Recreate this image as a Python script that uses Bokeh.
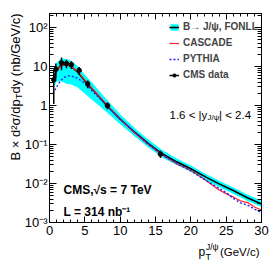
import math
from bokeh.plotting import figure
from bokeh.models import (FixedTicker, LinearAxis, LogAxis, CustomJSTickFormatter,
                          Legend, LegendItem, Label, Range1d, ColumnDataSource)
from bokeh.embed import file_html
from bokeh.resources import INLINE

# ---------------- data ----------------
fonll_pt = [0.5, 1, 1.5, 2, 2.5, 3, 4, 5, 6, 7, 8, 10, 12, 14, 16, 18, 20, 22, 24, 26, 28, 30]
fonll_central = [4.5, 8.0, 10.3, 11.2, 11.0, 10.2, 7.2, 4.3, 2.7, 1.7, 1.05, 0.45, 0.21, 0.105,
                 0.057, 0.036, 0.024, 0.015, 0.0098, 0.0066, 0.0043, 0.003]
fonll_upper = [7.5, 12.5, 15.5, 16.0, 15.5, 14.3, 10.2, 6.2, 3.9, 2.4, 1.5, 0.6, 0.27, 0.133,
               0.071, 0.044, 0.029, 0.018, 0.0118, 0.0079, 0.0052, 0.0036]
fonll_lower = [2.8, 4.0, 4.3, 3.9, 3.6, 3.5, 2.9, 2.0, 1.4, 1.0, 0.7, 0.33, 0.165, 0.084,
               0.046, 0.03, 0.02, 0.0125, 0.0082, 0.0055, 0.0036, 0.0025]

cascade_pt = [0.5, 1, 1.5, 2, 2.5, 3, 4, 5, 6, 7, 8, 10, 12, 14, 16, 18, 20, 22, 24, 25, 26, 27,
              27.5, 28, 29, 30]
cascade_val = [4.0, 7.5, 10.0, 11.0, 11.0, 10.3, 7.4, 4.5, 2.8, 1.75, 1.1, 0.45, 0.2, 0.1,
               0.053, 0.032, 0.022, 0.0125, 0.0068, 0.0055, 0.0045, 0.0036, 0.0034, 0.0033,
               0.0025, 0.0021]

pythia_pt = [0.5, 1, 1.5, 2, 2.5, 3, 4, 5, 6, 7, 8, 10, 12, 14, 16, 18, 20, 22, 24, 25, 26, 27,
             28, 29, 30]
pythia_val = [2.0, 3.0, 4.2, 5.2, 5.7, 5.8, 5.0, 3.7, 2.4, 1.6, 1.05, 0.45, 0.21, 0.1, 0.054,
              0.033, 0.021, 0.0125, 0.0075, 0.0058, 0.0042, 0.0032, 0.0028, 0.0022, 0.0018]

data_pt = [0.6, 0.9, 1.7, 2.4, 3.1, 4.2, 5.4, 8.2, 15.7]
data_val = [4.6, 8.5, 12.5, 12.0, 11.2, 8.0, 3.6, 1.0, 0.057]
data_err = [3.5, 3.5, 4.5, 3.0, 2.5, 1.8, 0.8, 0.2, 0.012]

x_min, x_max = 0, 30
y_min, y_max = 1e-3, 230
x_ticks = [0, 5, 10, 15, 20, 25, 30]
y_tick_values = [1e-3, 1e-2, 1e-1, 1, 10, 100]
y_tick_labels = ["10\u207b\u00b3", "10\u207b\u00b2", "10\u207b\u00b9", "1", "10", "10\u00b2"]

FONT = "Liberation Sans"

# ---------------- layout: the data box sits inside a canvas-sized frame ----------------
W, H = 274, 261                 # canvas
BL, BT, BR, BB = 49, 13, 261, 222   # data box edges in page px
sx = (BR - BL) / (x_max - x_min)
xr = Range1d(x_min - BL / sx, x_max + (W - BR) / sx)
dec = (BB - BT) / (math.log10(y_max) - math.log10(y_min))
yr = Range1d(10 ** (math.log10(y_min) - (H - BB) / dec), 10 ** (math.log10(y_max) + BT / dec))

p = figure(width=W, height=H, y_axis_type="log", x_range=xr, y_range=yr,
           output_backend="svg", toolbar_location=None, min_border=0,
           background_fill_color="white", border_fill_color="white",
           outline_line_color=None)
p.xgrid.visible = False
p.ygrid.visible = False

y_minor = [m * 10.0 ** e for e in range(-3, 3) for m in range(2, 10) if m * 10.0 ** e <= y_max]
x_minor = list(range(x_min, x_max + 1))
yfmt = CustomJSTickFormatter(args=dict(vals=y_tick_values, labs=y_tick_labels), code="""
const i = vals.findIndex(v => Math.abs(Math.log10(v) - Math.log10(tick)) < 1e-6);
return i >= 0 ? labs[i] : "";
""")
empty = CustomJSTickFormatter(code="return '';")


def style(ax, major=6, minor=3, labels=True):
    ax.axis_line_color = "black"
    ax.major_tick_in = major
    ax.major_tick_out = 0
    ax.minor_tick_in = minor
    ax.minor_tick_out = 0
    ax.major_tick_line_color = "black"
    ax.minor_tick_line_color = "black"
    ax.major_label_text_font = FONT
    ax.major_label_text_font_size = "13px" if labels else "0px"
    ax.major_label_text_color = "black"
    ax.major_label_standoff = 3 if labels else 0


xax = p.xaxis[0]
xax.ticker = FixedTicker(ticks=x_ticks, minor_ticks=x_minor)
xax.fixed_location = y_min
xax.bounds = (x_min, x_max)
style(xax)
yax = p.yaxis[0]
yax.ticker = FixedTicker(ticks=y_tick_values, minor_ticks=y_minor)
yax.formatter = yfmt
yax.fixed_location = x_min
yax.bounds = (y_min, y_max)
style(yax, major=7, minor=4)
yax.major_label_standoff = 2

top = LinearAxis(ticker=FixedTicker(ticks=x_ticks, minor_ticks=x_minor), formatter=empty,
                 fixed_location=y_max, bounds=(x_min, x_max))
style(top, labels=False)
p.add_layout(top, "above")
right = LogAxis(ticker=FixedTicker(ticks=y_tick_values, minor_ticks=y_minor), formatter=empty,
                fixed_location=x_max, bounds=(y_min, y_max))
style(right, major=7, minor=4, labels=False)
p.add_layout(right, "right")

# ---------------- glyphs ----------------
band_src = ColumnDataSource(dict(x=fonll_pt, lo=fonll_lower, hi=fonll_upper, c=fonll_central))
band = p.varea(x="x", y1="lo", y2="hi", source=band_src, fill_color="#00ffff", fill_alpha=1.0)
central = p.line(x="x", y="c", source=band_src, line_color="black", line_width=1.6)
casc = p.line(cascade_pt, cascade_val, line_color="#ff2020", line_width=1.2)
pyth = p.line(pythia_pt, pythia_val, line_color="#2020ff", line_width=1.4, line_dash="2 2")

d_src = ColumnDataSource(dict(x=data_pt, y=data_val,
                              lo=[v - e for v, e in zip(data_val, data_err)],
                              hi=[v + e for v, e in zip(data_val, data_err)]))
err = p.segment(x0="x", y0="lo", x1="x", y1="hi", source=d_src, line_color="black", line_width=1.5)
pts = p.scatter(x="x", y="y", source=d_src, size=4.5, fill_color="black", line_color="black")

legend = Legend(items=[
    LegendItem(label="B\u2192 J/\u03c8, FONLL", renderers=[band, central]),
    LegendItem(label="CASCADE", renderers=[casc]),
    LegendItem(label="PYTHIA", renderers=[pyth]),
    LegendItem(label="CMS data", renderers=[err, pts]),
], location=(169, H - 81), orientation="vertical",
    glyph_width=10, glyph_height=8, label_height=13, spacing=3, padding=0, margin=0,
    label_standoff=4, border_line_color=None, background_fill_alpha=0,
    label_text_font=FONT, label_text_font_size="10px", label_text_font_style="bold")
p.add_layout(legend)


# ---------------- texts (page px -> frame screen units) ----------------
def lab(text, px, py, size, style="normal", angle=0.0, align="left"):
    p.add_layout(Label(x=px, y=H - py, x_units="screen", y_units="screen", text=text,
                       text_font=FONT, text_font_size=f"{size}px", text_font_style=style,
                       text_color="black", angle=angle, text_align=align,
                       text_baseline="alphabetic"))


# rapidity range
lab("1.6 < |y", 169, 114, 11.5)
lab("J/\u03c8", 207, 117, 8)
lab("| < 2.4", 218.5, 114, 11.5)

# CMS labels
lab("CMS,\u221as = 7 TeV", 63, 189, 12, "bold")
lab("L = 314 nb\u207b\u00b9", 63, 211, 12, "bold")

# x axis title
lab("p", 198, 251, 12)
lab("T", 205, 256, 9)
lab("J/\u03c8", 205.5, 246, 8.5)
lab("(GeV/c)", 259, 251, 11.5, align="right")

# y axis title (rotated, reading upward)
ang = math.pi / 2
lab("B \u00d7 d\u00b2\u03c3/dp", 15, 160, 13, angle=ang)
lab("T", 18.5, 98.5, 9, angle=ang)
lab("dy (nb/GeV/c)", 15, 93, 13, angle=ang)

open("out.html", "w").write(file_html(p, INLINE))
